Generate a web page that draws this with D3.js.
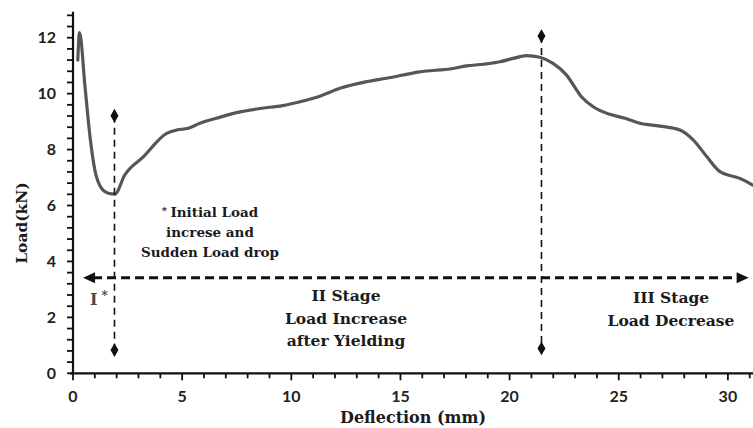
<!DOCTYPE html>
<html>
<head>
<meta charset="utf-8">
<script src="https://cdn.jsdelivr.net/npm/d3@7"></script>
<style>
  html, body { margin: 0; padding: 0; background: #fff; }
  svg { display: block; }
  .tick-lbl { font-family: Lato, "Open Sans", sans-serif; font-weight: 700; font-size: 16px; fill: #222; }
  .serif { font-family: "DejaVu Serif", serif; font-weight: 700; fill: #1b1b1b; }
</style>
</head>
<body>
<svg id="chart" width="753" height="428"></svg>
<script>
// Load–deflection response of the specimen
const deflection = [0.22, 0.30, 0.55, 0.78, 1.00, 1.31, 1.62, 1.92, 2.37, 3.22, 4.29, 4.75, 5.28, 5.81,
  6.57, 7.49, 8.56, 9.60, 10.40, 11.31, 12.23, 13.45, 14.36, 15.88, 17.41, 18.02, 18.79, 19.56,
  20.17, 20.78, 21.38, 21.99, 22.60, 23.29, 23.83, 24.59, 25.29, 25.97, 26.89, 27.80, 28.42,
  29.03, 29.64, 30.55, 31.14];
const load = [11.20, 12.18, 10.25, 8.46, 7.27, 6.61, 6.44, 6.41, 7.09, 7.74, 8.58, 8.70, 8.76, 8.94,
  9.12, 9.32, 9.47, 9.57, 9.71, 9.91, 10.19, 10.43, 10.55, 10.78, 10.90, 10.99, 11.05, 11.14,
  11.26, 11.36, 11.30, 11.08, 10.67, 9.89, 9.53, 9.26, 9.12, 8.94, 8.84, 8.70, 8.34,
  7.75, 7.21, 6.97, 6.73];

// Axis ticks
const xMajorTicks = [0, 5, 10, 15, 20, 25, 30];
const yMajorTicks = [0, 2, 4, 6, 8, 10, 12];

// Stage boundaries (deflection) and the extents of their marker lines (load)
const stageBounds = [1.9, 21.46];
const boundTop = [9.21, 12.06];
const boundBottom = [0.83, 0.89];
// Horizontal double arrow spanning the stages
const arrowLoad = 3.42;
const arrowFrom = 0.46;
const arrowTo = 30.95;

const svg = d3.select("#chart");
const x = d3.scaleLinear().domain([0, 31.15]).range([73, 753]);
const y = d3.scaleLinear().domain([0, 12.93]).range([373.3, 11.7]);

// Y axis
const yMinor = d3.range(0, 12.81, 0.4).map(v => +v.toFixed(1));
const yAxisG = svg.append("g").attr("transform", `translate(${x(0)},0)`);
yAxisG.append("line").attr("x1", 0).attr("x2", 0).attr("y1", y(0)).attr("y2", y.range()[1])
  .attr("stroke", "#111").attr("stroke-width", 2.2);
yAxisG.selectAll(".ym").data(yMinor).join("line")
  .attr("x1", -6).attr("x2", 0).attr("y1", d => y(d)).attr("y2", d => y(d))
  .attr("stroke", "#111").attr("stroke-width", 1.8);
yAxisG.selectAll(".yl").data(yMajorTicks).join("text")
  .attr("class", "tick-lbl").attr("text-anchor", "end")
  .attr("x", -17).attr("y", d => y(d)).attr("dy", "0.36em")
  .text(d => d);

// X axis
const xMinor = d3.range(0, 31.01, 1);
const xAxisG = svg.append("g").attr("transform", `translate(0,${y(0)})`);
xAxisG.append("line").attr("x1", x(0) - 3).attr("x2", x.range()[1]).attr("y1", 0).attr("y2", 0)
  .attr("stroke", "#111").attr("stroke-width", 2.2);
xAxisG.selectAll(".xm").data(xMinor).join("line")
  .attr("x1", d => x(d)).attr("x2", d => x(d)).attr("y1", 0).attr("y2", d => d % 5 === 0 ? 7 : 5)
  .attr("stroke", "#111").attr("stroke-width", 1.8);
xAxisG.selectAll(".xl").data(xMajorTicks).join("text")
  .attr("class", "tick-lbl").attr("text-anchor", "middle")
  .attr("x", d => x(d)).attr("y", 29)
  .text(d => d);

// Axis titles
svg.append("text").attr("class", "serif").attr("font-size", 16)
  .attr("text-anchor", "middle").attr("x", 413).attr("y", 423)
  .text("Deflection (mm)");
svg.append("text").attr("class", "serif").attr("font-size", 15.5)
  .attr("text-anchor", "middle")
  .attr("transform", "translate(27,223) rotate(-90)")
  .text("Load(kN)");

// Load–deflection curve
const pts = deflection.map((d, i) => [d, load[i]]);
svg.append("defs").append("clipPath").attr("id", "plotClip")
  .append("rect").attr("x", x(0)).attr("y", 0).attr("width", x.range()[1] - x(0)).attr("height", y(0));
svg.append("path").datum(pts)
  .attr("clip-path", "url(#plotClip)")
  .attr("fill", "none").attr("stroke", "#565656").attr("stroke-width", 3.2)
  .attr("stroke-linejoin", "round").attr("stroke-linecap", "round")
  .attr("d", d3.line().x(d => x(d[0])).y(d => y(d[1])).curve(d3.curveMonotoneX));

// Stage boundary lines with diamond ends
const diamond = d3.symbol().type(d3.symbolDiamond).size(55);
stageBounds.forEach((b, i) => {
  svg.append("line").attr("x1", x(b)).attr("x2", x(b))
    .attr("y1", y(boundTop[i])).attr("y2", y(boundBottom[i]))
    .attr("stroke", "#111").attr("stroke-width", 1.6).attr("stroke-dasharray", "7,5");
  [boundTop[i], boundBottom[i]].forEach(v => {
    svg.append("path").attr("d", diamond)
      .attr("transform", `translate(${x(b)},${y(v)})`).attr("fill", "#111");
  });
});

// Double-headed dashed arrow
const ay = y(arrowLoad);
const head = 12, half = 5.5;
svg.append("line").attr("x1", x(arrowFrom) + head - 2).attr("x2", x(arrowTo) - head + 2)
  .attr("y1", ay).attr("y2", ay)
  .attr("stroke", "#111").attr("stroke-width", 3).attr("stroke-dasharray", "9,5");
svg.append("path")
  .attr("d", `M${x(arrowFrom)},${ay} L${x(arrowFrom) + head},${ay - half} L${x(arrowFrom) + head},${ay + half} Z`)
  .attr("fill", "#111");
svg.append("path")
  .attr("d", `M${x(arrowTo)},${ay} L${x(arrowTo) - head},${ay - half} L${x(arrowTo) - head},${ay + half} Z`)
  .attr("fill", "#111");

// Stage annotations
function block(cx, baselines, lines, size) {
  const t = svg.append("text").attr("class", "serif").attr("font-size", size).attr("text-anchor", "middle");
  lines.forEach((ln, i) => {
    t.append("tspan").attr("x", cx).attr("y", baselines[i]).text(ln);
  });
  return t;
}

const note = svg.append("text").attr("class", "serif").attr("font-size", 13.5).attr("text-anchor", "middle");
const l1 = note.append("tspan").attr("x", 210).attr("y", 217);
l1.append("tspan").attr("font-size", 10).attr("dy", -3).text("* ");
l1.append("tspan").attr("dy", 3).text("Initial Load");
note.append("tspan").attr("x", 210).attr("y", 237).text("increse and");
note.append("tspan").attr("x", 210).attr("y", 257).text("Sudden Load drop");

const s1 = svg.append("text").attr("class", "serif").attr("font-size", 16).attr("fill", "#4a4a4a")
  .attr("x", 90).attr("y", 305);
s1.append("tspan").attr("fill", "#4a4a4a").text("I");
s1.append("tspan").attr("font-size", 12).attr("dx", 4).attr("dy", -5).attr("fill", "#4a4a4a").text("*");

block(346, [301, 323.5, 346], ["II Stage", "Load Increase", "after Yielding"], 15.5);
block(671, [303, 326], ["III Stage", "Load Decrease"], 15.5);
</script>
</body>
</html>
